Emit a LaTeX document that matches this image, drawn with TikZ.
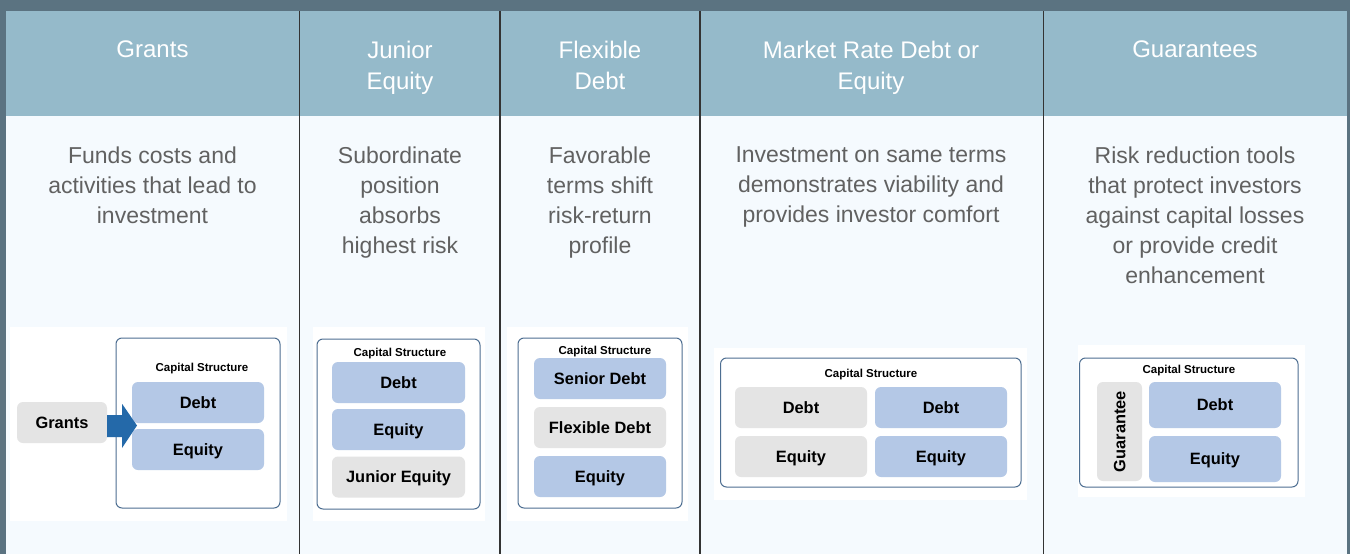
\documentclass[tikz,border=0pt]{standalone}
\usepackage{fontspec}
\setmainfont{Liberation Sans}
\definecolor{frame}{HTML}{5B7381}
\definecolor{head}{HTML}{95BACA}
\definecolor{bodybg}{HTML}{F5FAFE}
\definecolor{bluebox}{HTML}{B4C8E6}
\definecolor{graybox}{HTML}{E4E4E4}
\definecolor{arrowblue}{HTML}{2469A9}
\definecolor{capline}{HTML}{4D6E91}
\definecolor{divider}{HTML}{333333}
\definecolor{bodytext}{HTML}{616161}
\tikzset{
  headtxt/.style={anchor=north, inner sep=0pt, align=center, text=white,
    font=\fontsize{24}{30.5}\selectfont},
  bodytxt/.style={anchor=north, inner sep=0pt, align=center, text=bodytext,
    font=\fontsize{23}{30}\selectfont},
  panel/.style={fill=white, draw=none},
  capbox/.style={draw=capline, line width=1pt, rounded corners=6pt, fill=white},
  captitle/.style={inner sep=0pt, text height=8.3pt, text depth=0pt,
    font=\fontsize{11.5}{13}\selectfont\bfseries},
  cell/.style={rounded corners=6pt, inner sep=0pt, text height=11.8pt, text depth=0pt,
    font=\fontsize{16.4}{19}\selectfont\bfseries},
  bcell/.style={cell, fill=bluebox},
  gcell/.style={cell, fill=graybox},
  divline/.style={draw=divider, line width=1.2pt},
}
\begin{document}
\begin{tikzpicture}[x=1pt, y=-1pt]
\useasboundingbox (0,0) rectangle (1350,554);
% background & frame
\fill[frame] (0,0) rectangle (1350,554);
\fill[head] (6,11) rectangle (1347,116);
\fill[bodybg] (6,116) rectangle (1347,554);
% dividers
\foreach \xx in {299.5,500,700,1043.5}{ \draw[divline] (\xx,11) -- (\xx,554); }
% headers
\node[headtxt] (h1) at (152.5,41) {Grants};
\node[headtxt] (h2) at (400,41) {Junior\\Equity};
\node[headtxt] (h3) at (600,41) {Flexible\\Debt};
\node[headtxt] (h4) at (871,41) {Market Rate Debt or\\Equity};
\node[headtxt] (h5) at (1195,41) {Guarantees};
% body texts
\node[bodytxt] (t1) at (152.5,146.5) {Funds costs and\\activities that lead to\\investment};
\node[bodytxt] (t2) at (400,146.5) {Subordinate\\position\\absorbs\\highest risk};
\node[bodytxt] (t3) at (600,146.5) {Favorable\\terms shift\\risk-return\\profile};
\node[bodytxt] (t4) at (871,146.5) {Investment on same terms\\demonstrates viability and\\provides investor comfort};
\node[bodytxt] (t5) at (1195,146.5) {Risk reduction tools\\that protect investors\\against capital losses\\or provide credit\\enhancement};
% ---- Column 1: Grants
\fill[panel] (10,327) rectangle (287,521);
\draw[capbox] (116,338) rectangle (280,508);
\node[captitle] (c1) at (202,367) {Capital Structure};
\node[bcell, minimum width=132pt, minimum height=41pt] (c1d) at (198,402.5) {Debt};
\node[bcell, minimum width=132pt, minimum height=41pt] (c1e) at (198,449.5) {Equity};
\node[gcell, minimum width=90pt, minimum height=41pt] (gr) at (62,422.5) {Grants};
\fill[arrowblue] (gr.east) ++(0,-7.5) -- ++(15,0) -- ++(0,-11) -- (137,425.5) -- (122,448) -- (122,437) -- (gr.east |- 0,437) -- cycle;
% ---- Column 2: Junior Equity
\fill[panel] (313,327) rectangle (485,521);
\draw[capbox] (317,339) rectangle (480,509);
\node[captitle] (c2) at (400,352) {Capital Structure};
\node[bcell, minimum width=133pt, minimum height=41pt] (c2d) at (398.5,382.5) {Debt};
\node[bcell, minimum width=133pt, minimum height=41pt] (c2e) at (398.5,429.5) {Equity};
\node[gcell, minimum width=133pt, minimum height=41pt] (c2j) at (398.5,477) {Junior Equity};
% ---- Column 3: Flexible Debt
\fill[panel] (507,327) rectangle (688,521);
\draw[capbox] (518,338) rectangle (682,508);
\node[captitle] (c3) at (605,350) {Capital Structure};
\node[bcell, minimum width=132pt, minimum height=41pt] (c3s) at (600,378.5) {Senior Debt};
\node[gcell, minimum width=132pt, minimum height=41pt] (c3f) at (600,427.5) {Flexible Debt};
\node[bcell, minimum width=132pt, minimum height=41pt] (c3e) at (600,476.5) {Equity};
% ---- Column 4: Market Rate
\fill[panel] (714,348) rectangle (1027,500);
\draw[capbox] (720.5,358) rectangle (1021,487);
\node[captitle] (c4) at (871,373.5) {Capital Structure};
\node[gcell, minimum width=132pt, minimum height=41pt] (c4gd) at (801,407.5) {Debt};
\node[gcell, minimum width=132pt, minimum height=41pt] (c4ge) at (801,456.5) {Equity};
\node[bcell, minimum width=132pt, minimum height=41pt] (c4bd) at (941,407.5) {Debt};
\node[bcell, minimum width=132pt, minimum height=41pt] (c4be) at (941,456.5) {Equity};
% ---- Column 5: Guarantees
\fill[panel] (1078,345) rectangle (1305,497);
\draw[capbox] (1079.5,358) rectangle (1298,487);
\node[captitle] (c5) at (1189,369.5) {Capital Structure};
\node[gcell, minimum width=99pt, minimum height=45pt, rotate=90] (c5g) at (1119.5,431.5) {Guarantee};
\node[bcell, minimum width=132pt, minimum height=46pt] (c5d) at (1215,405) {Debt};
\node[bcell, minimum width=132pt, minimum height=46pt] (c5e) at (1215,459) {Equity};
\end{tikzpicture}
\end{document}
